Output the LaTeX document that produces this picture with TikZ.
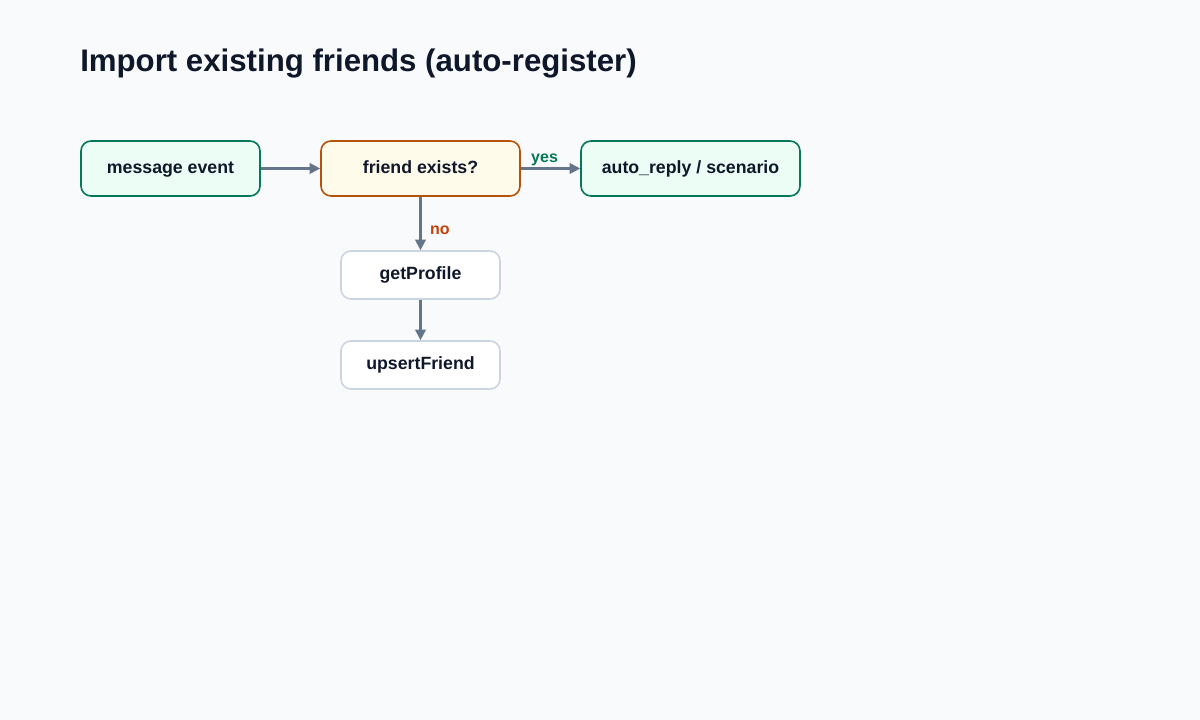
\documentclass[tikz,border=0pt]{standalone}
\usepackage{fontspec}
\setmainfont{Liberation Sans}
\usetikzlibrary{arrows.meta}
\definecolor{bg}{HTML}{F8FAFC}
\definecolor{ink}{HTML}{0F172A}
\definecolor{grn}{HTML}{047857}
\definecolor{grnfill}{HTML}{ECFDF5}
\definecolor{org}{HTML}{B45309}
\definecolor{orgfill}{HTML}{FFFBEB}
\definecolor{gry}{HTML}{CBD5E1}
\definecolor{arr}{HTML}{64748B}
\definecolor{nolab}{HTML}{C2410C}
\begin{document}
\begin{tikzpicture}[x=0.75pt,y=-0.75pt,
  box/.style={rounded corners=7.5pt, line width=1.2pt, align=center, inner sep=0pt,
    font=\fontsize{13.3}{16}\selectfont\bfseries, text=ink, text height=9.6pt, text depth=2.4pt},
  okbox/.style={box, draw=grn, fill=grnfill},
  askbox/.style={box, draw=org, fill=orgfill},
  plainbox/.style={box, draw=gry, fill=white},
  link/.style={draw=arr, line width=1.6pt, -{Triangle[length=8pt,width=8pt]}},
  lab/.style={font=\fontsize{12}{14}\selectfont\bfseries}
]
\useasboundingbox (0,0) rectangle (1200,720);
\fill[bg] (0,0) rectangle (1200,720);
\node[anchor=base west, font=\fontsize{23.4}{28}\selectfont\bfseries, text=ink, inner sep=0pt] (title) at (80,72) {Import existing friends (auto-register)};
\node[okbox, minimum width=179*0.75pt, minimum height=55*0.75pt] (msg) at (170.5,168.5) {message event};
\node[askbox, minimum width=199*0.75pt, minimum height=55*0.75pt] (ask) at (420.5,168.5) {friend exists?};
\node[okbox, minimum width=219*0.75pt, minimum height=55*0.75pt] (auto) at (690.5,168.5) {auto\_reply / scenario};
\node[plainbox, minimum width=159*0.75pt, minimum height=48*0.75pt] (prof) at (420.5,275) {getProfile};
\node[plainbox, minimum width=159*0.75pt, minimum height=48*0.75pt] (ups) at (420.5,365) {upsertFriend};
\draw[link] (msg) -- (ask);
\draw[link] (ask) -- node[lab, text=grn, above=-2pt, pos=0.4] {yes} (auto);
\draw[link] (ask) -- node[lab, text=nolab, right=3pt, pos=0.62] {no} (prof);
\draw[link] (prof) -- (ups);
\end{tikzpicture}
\end{document}
